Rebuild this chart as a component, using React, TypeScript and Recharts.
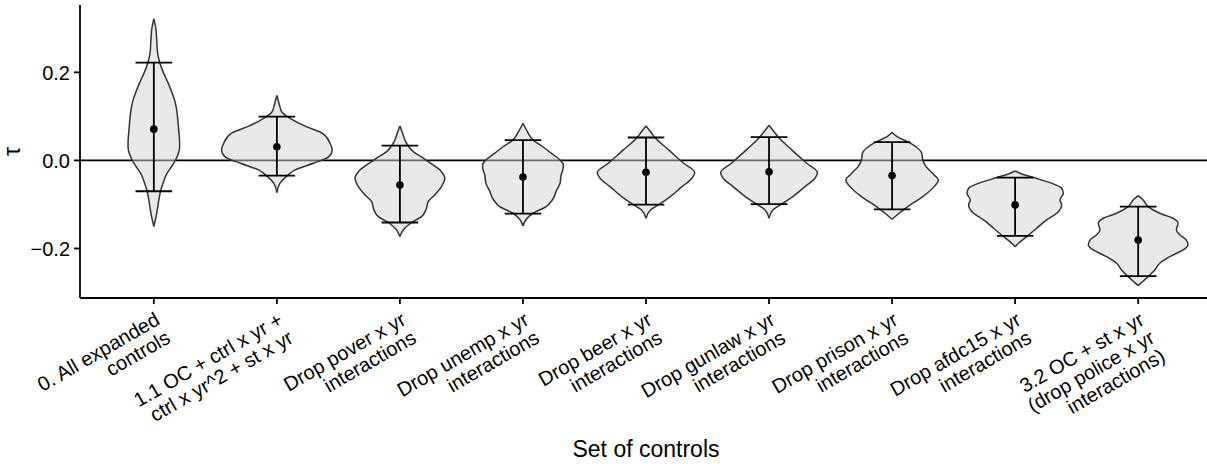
import React from 'react';
import { ComposedChart, Area, Scatter, ErrorBar, XAxis, YAxis, ReferenceLine, Label } from 'recharts';

// Category tick labels (one array of lines per category)
const categoryLabels: string[][] = [
  ['0. All expanded', 'controls'],
  ['1.1 OC + ctrl x yr +', 'ctrl x yr^2 + st x yr'],
  ['Drop pover x yr', 'interactions'],
  ['Drop unemp x yr', 'interactions'],
  ['Drop beer x yr', 'interactions'],
  ['Drop gunlaw x yr', 'interactions'],
  ['Drop prison x yr', 'interactions'],
  ['Drop afdc15 x yr', 'interactions'],
  ['3.2 OC + st x yr', '(drop police x yr', 'interactions)'],
];

// Point estimate and interval per category
const means = [0.071, 0.031, -0.0557, -0.0375, -0.027, -0.026, -0.0345, -0.101, -0.181];
const lower = [-0.07, -0.0345, -0.141, -0.121, -0.1005, -0.0995, -0.111, -0.1716, -0.263];
const upper = [0.222, 0.0995, 0.0336, 0.046, 0.052, 0.0527, 0.0414, -0.039, -0.105];

const yTicks = [-0.2, 0, 0.2];
const yTickLabels = ['\u22120.2', '0.0', '0.2'];

// Violin density profiles: [tau, relative density]
const violin0 = [
  [0.3216, 0], [0.30, 0.036], [0.27, 0.054], [0.25, 0.063], [0.235, 0.081], [0.222, 0.108],
  [0.20, 0.171], [0.175, 0.262], [0.155, 0.325], [0.1375, 0.374], [0.12, 0.406], [0.0995, 0.428],
  [0.07, 0.448], [0.046, 0.464], [0.031, 0.466], [0.015, 0.442], [0.001, 0.392], [-0.015, 0.316],
  [-0.029, 0.24], [-0.05, 0.171], [-0.07, 0.121], [-0.09, 0.09], [-0.105, 0.072], [-0.125, 0.045],
  [-0.15, 0],
];
const violin1 = [
  [0.1473, 0], [0.135, 0.027], [0.1223, 0.054], [0.11, 0.09], [0.0995, 0.19], [0.0768, 0.53],
  [0.0618, 0.82], [0.039, 0.96], [0.0239, 1.0], [0.0086, 0.94], [-0.0064, 0.66], [-0.0216, 0.33],
  [-0.0345, 0.19], [-0.052, 0.054], [-0.0732, 0],
];
const violin2 = [
  [0.0784, 0], [0.0618, 0.048], [0.039, 0.12], [0.02, 0.24], [0.005, 0.42], [-0.0102, 0.6],
  [-0.0255, 0.75], [-0.0405, 0.81], [-0.0595, 0.75], [-0.0784, 0.63], [-0.0936, 0.51],
  [-0.1125, 0.47], [-0.1277, 0.39], [-0.141, 0.21], [-0.158, 0.06], [-0.173, 0],
];
const violin3 = [
  [0.0845, 0], [0.0655, 0.08], [0.0466, 0.18], [0.031, 0.36], [0.0164, 0.51], [0.0011, 0.67],
  [-0.0102, 0.73], [-0.0216, 0.72], [-0.033, 0.69], [-0.052, 0.67], [-0.067, 0.61],
  [-0.0898, 0.53], [-0.105, 0.42], [-0.12, 0.18], [-0.1336, 0.06], [-0.149, 0],
];
const violin4 = [
  [0.0784, 0], [0.0655, 0.08], [0.0518, 0.16], [0.0239, 0.41], [-0.0064, 0.68], [-0.0277, 0.88],
  [-0.0405, 0.83], [-0.0595, 0.65], [-0.0823, 0.44], [-0.1005, 0.23], [-0.1125, 0.08], [-0.1314, 0],
];
const violin5 = [
  [0.08, 0], [0.067, 0.08], [0.0527, 0.17], [0.0239, 0.41], [-0.0064, 0.68], [-0.0277, 0.875],
  [-0.0405, 0.83], [-0.0595, 0.65], [-0.0823, 0.43], [-0.0995, 0.225], [-0.1125, 0.07], [-0.1314, 0],
];
const violin6 = [
  [0.064, 0], [0.054, 0.09], [0.0414, 0.295], [0.031, 0.43], [0.0164, 0.535], [0.0011, 0.554],
  [-0.014, 0.614], [-0.033, 0.76], [-0.0443, 0.836], [-0.0595, 0.76], [-0.0823, 0.554],
  [-0.105, 0.283], [-0.124, 0.09], [-0.1336, 0],
];
const violin7 = [
  [-0.0239, 0], [-0.029, 0.09], [-0.039, 0.33], [-0.0505, 0.63], [-0.0633, 0.84], [-0.0745, 0.87],
  [-0.0898, 0.81], [-0.101, 0.84], [-0.12, 0.75], [-0.135, 0.57], [-0.154, 0.39], [-0.173, 0.21],
  [-0.188, 0.06], [-0.196, 0],
];
const violin8 = [
  [-0.08, 0], [-0.0898, 0.09], [-0.105, 0.18], [-0.12, 0.39], [-0.1314, 0.63], [-0.1427, 0.72],
  [-0.158, 0.69], [-0.169, 0.75], [-0.181, 0.87], [-0.192, 0.9], [-0.2034, 0.81], [-0.2186, 0.57],
  [-0.2336, 0.39], [-0.249, 0.3], [-0.264, 0.18], [-0.2777, 0.06], [-0.2845, 0],
];

const violins = [violin0, violin1, violin2, violin3, violin4, violin5, violin6, violin7, violin8];

const MAX_HALF = 0.45; // half of the 0.9 violin width, in category units
const FONT = '"Liberation Sans", Arial, Helvetica, sans-serif';
const TICK_FS = 20;
const TITLE_FS = 23;

const violinData = violins.map((v) => v.map(([y, d]) => ({ y, d })));
const pointData = means.map((m, i) => ({ x: i, y: m, err: [m - lower[i], upper[i] - m] }));

const XTick = (props: any) => {
  const { x, y, payload } = props;
  const lines = categoryLabels[payload.value] || [];
  return (
    <g transform={`translate(${x},${y}) rotate(-30)`}>
      {lines.map((t, k) => (
        <text key={k} x={0} y={14.5 + k * 21} textAnchor="end" fontSize={TICK_FS} fill="#000" fontFamily={FONT}>
          {t}
        </text>
      ))}
    </g>
  );
};

const YTick = (props: any) => {
  const { x, y, payload } = props;
  const idx = yTicks.indexOf(payload.value);
  return (
    <text x={x} y={y} dy="0.36em" textAnchor="end" fontSize={TICK_FS} fill="#000" fontFamily={FONT}>
      {idx >= 0 ? yTickLabels[idx] : ''}
    </text>
  );
};

const XTitle = (props: any) => {
  const vb = props.viewBox || { x: 80, y: 298, width: 1132, height: 166 };
  return (
    <text x={vb.x + vb.width / 2} y={vb.y + 159} textAnchor="middle" fontSize={TITLE_FS} fill="#000" fontFamily={FONT}>
      Set of controls
    </text>
  );
};

const YTitle = (props: any) => {
  const vb = props.viewBox || { x: 0, y: 5, width: 80, height: 293 };
  const cx = vb.x + 20;
  const cy = vb.y + vb.height / 2;
  return (
    <text x={cx} y={cy} transform={`rotate(-90, ${cx}, ${cy})`} textAnchor="middle" fontSize={TITLE_FS} fill="#000" fontFamily={FONT}>
      τ
    </text>
  );
};

export default function App() {
  return (
    <div style={{ position: 'absolute', left: 0, top: 0, width: 1207, height: 464, overflow: 'hidden', background: '#fff' }}>
      <ComposedChart
        width={1230}
        height={464}
        layout="vertical"
        margin={{ top: 5, right: 18, bottom: 0, left: 0 }}
      >
        <XAxis
          type="number"
          dataKey="x"
          domain={[-0.6, 8.6]}
          ticks={[0, 1, 2, 3, 4, 5, 6, 7, 8]}
          allowDataOverflow
          interval={0}
          height={166}
          tickSize={6}
          tickMargin={7}
          tick={<XTick />}
          tickLine={{ stroke: '#000', strokeWidth: 1.8 }}
          axisLine={{ stroke: '#000', strokeWidth: 1.8 }}
        >
          <Label content={<XTitle />} />
        </XAxis>
        <YAxis
          type="number"
          dataKey="y"
          reversed
          domain={[-0.3125, 0.353]}
          ticks={yTicks}
          allowDataOverflow
          interval={0}
          width={80}
          tickSize={6}
          tickMargin={4}
          tick={<YTick />}
          tickLine={{ stroke: '#000', strokeWidth: 1.8 }}
          axisLine={{ stroke: '#000', strokeWidth: 1.8 }}
        >
          <Label content={<YTitle />} />
        </YAxis>
        <ReferenceLine y={0} stroke="#000" strokeWidth={1.8} zIndex={50} />
        {violinData.map((data, i) => (
          <Area
            key={`v${i}`}
            data={data}
            dataKey={(e: any) => [i - MAX_HALF * e.d, i + MAX_HALF * e.d]}
            type="monotone"
            stroke="#333333"
            strokeWidth={1.5}
            fill="#d3d3d3"
            fillOpacity={0.5}
            dot={false}
            activeDot={false}
            isAnimationActive={false}
          />
        ))}
        <Scatter
          data={pointData}
          isAnimationActive={false}
          shape={(p: any) => <circle cx={p.cx} cy={p.cy} r={3.8} fill="#000" />}
        >
          <ErrorBar dataKey="err" direction="y" width={18.3} stroke="#000" strokeWidth={1.8} />
        </Scatter>
      </ComposedChart>
    </div>
  );
}
